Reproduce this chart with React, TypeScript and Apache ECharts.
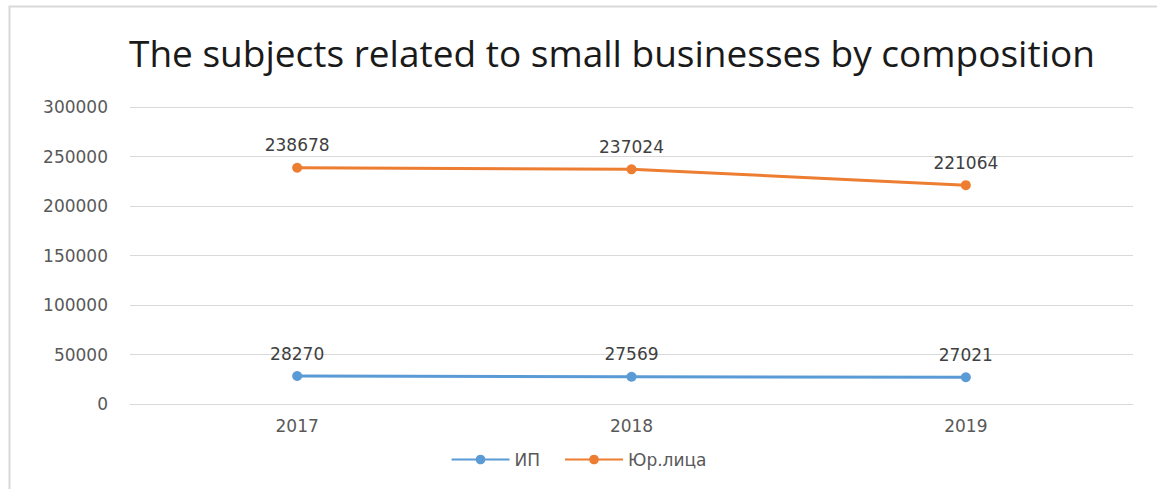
import React, { useEffect, useRef } from "react";
import * as echarts from "echarts";

const years = ["2017", "2018", "2019"];
const ipValues = [28270, 27569, 27021];
const yurValues = [238678, 237024, 221064];
const seriesNames = ["ИП", "Юр.лица"];
const titleText = "The subjects related to small businesses by composition";

export default function App() {
  const ref = useRef<HTMLDivElement>(null);
  useEffect(() => {
    document.body.style.margin = "0";
    const chart = echarts.init(ref.current!, null, { renderer: "svg" });
    const labelFont = {
      fontFamily: "DejaVu Sans",
      fontSize: 17,
    };
    chart.setOption({
      animation: false,
      backgroundColor: "#ffffff",
      title: {
        text: titleText,
        left: 124,
        top: 29,
        textStyle: {
          fontFamily: "Open Sans",
          fontSize: 37,
          fontWeight: "normal",
          color: "#1a1a1a",
        },
      },
      graphic: [
        {
          type: "rect",
          shape: { x: 9.5, y: 6.5, width: 1200, height: 600 },
          style: { fill: "none", stroke: "#d9d9d9", lineWidth: 2 },
          silent: true,
        },
      ],
      legend: {
        bottom: 16,
        left: "center",
        itemWidth: 58,
        itemHeight: 12,
        itemGap: 24,
        textStyle: { fontFamily: "DejaVu Sans", fontSize: 17, color: "#595959" },
        data: seriesNames,
      },
      grid: { left: 130, right: 24, top: 107, bottom: 85 },
      xAxis: {
        type: "category",
        data: years,
        boundaryGap: true,
        axisLine: { show: true, lineStyle: { color: "#d9d9d9", width: 1 } },
        axisTick: { show: false },
        axisLabel: { ...labelFont, color: "#595959", margin: 13 },
      },
      yAxis: {
        type: "value",
        min: 0,
        max: 300000,
        interval: 50000,
        axisLine: { show: false },
        axisTick: { show: false },
        axisLabel: {
          ...labelFont,
          color: "#595959",
          margin: 22,
          formatter: (v: number) => String(v),
        },
        splitLine: { lineStyle: { color: "#d9d9d9", width: 1 } },
      },
      series: [
        {
          name: seriesNames[0],
          type: "line",
          data: ipValues,
          symbol: "circle",
          symbolSize: 10,
          itemStyle: { color: "#5B9BD5" },
          lineStyle: { color: "#5B9BD5", width: 3 },
          label: {
            show: true,
            position: "top",
            distance: 9,
            ...labelFont,
            color: "#404040",
          },
        },
        {
          name: seriesNames[1],
          type: "line",
          data: yurValues,
          symbol: "circle",
          symbolSize: 10,
          itemStyle: { color: "#ED7D31" },
          lineStyle: { color: "#ED7D31", width: 3 },
          label: {
            show: true,
            position: "top",
            distance: 9,
            ...labelFont,
            color: "#404040",
          },
        },
      ],
    });
    return () => chart.dispose();
  }, []);
  return <div ref={ref} style={{ width: 1157, height: 489 }} />;
}
